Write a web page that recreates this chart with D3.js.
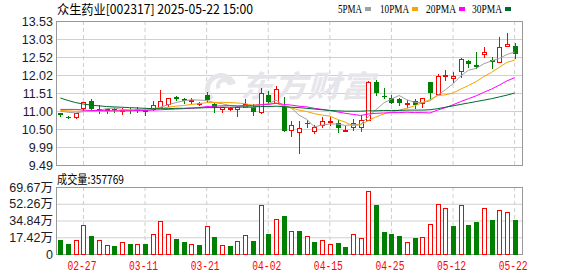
<!DOCTYPE html>
<html>
<head>
<meta charset="utf-8">
<script src="https://cdn.jsdelivr.net/npm/d3@7"></script>
<style>
  body { margin: 0; background: #fff; }
  svg { display: block; }
</style>
</head>
<body>
<div id="chart"></div>
<script>
var dates = ["02-24","02-25","02-26","02-27","02-28","03-03","03-04","03-05","03-06","03-07",
  "03-10","03-11","03-12","03-13","03-14","03-17","03-18","03-19","03-20","03-21",
  "03-24","03-25","03-26","03-27","03-28","03-31","04-01","04-02","04-03","04-07",
  "04-08","04-09","04-10","04-11","04-14","04-15","04-16","04-17","04-18","04-21",
  "04-22","04-23","04-24","04-25","04-28","04-29","04-30","05-06","05-07","05-08",
  "05-09","05-12","05-13","05-14","05-15","05-16","05-19","05-20","05-21","05-22"];

var open = [10.94,10.84,10.83,11.08,11.29,11.02,11.04,11.06,11.01,11.04,
  11.03,11.00,11.05,11.13,11.20,11.39,11.35,11.28,11.21,11.45,
  11.19,11.07,11.07,11.05,11.12,11.11,10.97,11.45,11.22,11.15,
  10.47,10.41,10.67,10.45,10.61,10.71,10.66,10.44,10.55,10.56,
  10.75,11.82,11.42,11.36,11.33,11.21,11.29,11.22,11.81,11.47,
  11.98,11.92,12.13,12.41,12.30,12.60,12.44,12.37,12.84,12.84];
var high = [10.95,10.87,10.96,11.27,11.33,11.16,11.10,11.08,11.08,11.08,
  11.11,11.06,11.28,11.59,11.38,11.43,11.36,11.36,11.27,11.55,
  11.24,11.13,11.13,11.15,11.34,11.19,11.64,11.57,11.71,11.39,
  10.72,10.73,10.75,10.61,10.83,10.84,10.75,10.58,10.77,10.89,
  11.85,11.88,11.64,11.45,11.38,11.31,11.34,11.38,11.83,12.03,
  12.16,12.11,12.48,12.44,12.67,12.81,12.53,13.09,13.19,12.90];
var low = [10.87,10.80,10.82,11.03,11.03,10.94,10.95,10.99,10.93,10.95,
  10.98,10.88,11.03,11.12,11.15,11.31,11.22,11.24,11.17,11.27,
  10.99,10.97,11.03,10.87,11.11,10.89,10.96,11.22,11.22,10.45,
  10.31,9.84,10.56,10.40,10.56,10.61,10.42,10.43,10.47,10.45,
  10.74,11.45,11.38,11.22,11.17,11.13,11.10,11.13,11.38,11.47,
  11.88,11.83,11.97,12.25,12.22,12.53,12.22,12.37,12.83,12.48];
var close = [10.89,10.82,10.95,11.25,11.05,11.06,11.07,11.02,11.04,11.02,
  11.06,11.03,11.16,11.29,11.36,11.35,11.29,11.31,11.23,11.31,
  11.08,11.11,11.09,11.12,11.19,10.97,11.50,11.27,11.61,10.45,
  10.61,10.52,10.65,10.56,10.72,10.73,10.54,10.46,10.66,10.75,
  11.83,11.50,11.40,11.24,11.22,11.23,11.16,11.36,11.50,12.00,
  12.01,11.99,12.46,12.32,12.24,12.65,12.37,12.81,12.88,12.60];

// volume in 万
var volume = [14.9,10.7,14.6,30.2,19.1,14.6,9.4,8.7,12.5,10.7,
  10.7,10.7,20.8,34.4,20.8,16.0,12.8,10.4,9.7,29.2,
  18.0,9.4,8.7,13.6,19.8,13.9,51.1,21.2,36.5,39.9,
  24.0,24.3,18.8,12.8,14.6,10.7,11.8,7.6,21.2,16.7,
  65.7,51.4,23.3,21.2,19.1,12.5,17.0,17.7,31.6,52.1,
  48.0,29.5,51.1,30.6,33.7,48.0,35.8,45.9,43.8,35.78];

var ma5 = [11.00,10.97,10.95,10.99,10.99,11.02,11.07,11.09,11.05,11.04,
  11.04,11.03,11.06,11.11,11.18,11.24,11.29,11.32,11.31,11.30,
  11.24,11.21,11.16,11.14,11.12,11.10,11.17,11.21,11.31,11.16,
  11.09,10.89,10.77,10.56,10.61,10.64,10.64,10.60,10.62,10.63,
  10.85,11.04,11.23,11.34,11.44,11.32,11.25,11.24,11.29,11.45,
  11.60,11.77,11.99,12.15,12.20,12.33,12.41,12.48,12.59,12.66];
var ma10 = [11.02,11.01,11.00,11.00,11.00,11.00,11.00,11.01,11.01,11.02,
  11.03,11.05,11.08,11.08,11.11,11.14,11.16,11.19,11.21,11.24,
  11.24,11.25,11.24,11.23,11.21,11.17,11.19,11.19,11.23,11.14,
  11.09,11.03,10.99,10.93,10.89,10.86,10.77,10.69,10.59,10.62,
  10.74,10.84,10.92,10.98,11.03,11.08,11.15,11.24,11.32,11.44,
  11.46,11.51,11.62,11.72,11.83,11.97,12.09,12.23,12.37,12.43];
var ma20 = [11.05,11.05,11.05,11.03,11.02,11.02,11.01,11.01,11.01,11.01,
  11.02,11.02,11.03,11.04,11.05,11.06,11.07,11.08,11.10,11.13,
  11.14,11.15,11.16,11.15,11.16,11.16,11.18,11.19,11.22,11.19,
  11.17,11.14,11.12,11.08,11.05,11.02,10.98,10.94,10.91,10.88,
  10.92,10.94,10.95,10.96,10.96,10.97,10.96,10.96,10.95,11.03,
  11.10,11.18,11.27,11.35,11.43,11.53,11.62,11.73,11.85,11.94];
var ma30 = [11.37,11.30,11.24,11.20,11.17,11.15,11.13,11.12,11.11,11.10,
  11.09,11.08,11.07,11.07,11.07,11.08,11.08,11.09,11.09,11.10,
  11.10,11.11,11.11,11.11,11.12,11.12,11.13,11.13,11.14,11.13,
  11.11,11.10,11.08,11.06,11.04,11.02,11.01,11.00,11.00,11.00,
  11.01,11.01,11.02,11.02,11.02,11.03,11.03,11.03,11.04,11.07,
  11.11,11.15,11.19,11.23,11.27,11.31,11.35,11.40,11.45,11.51];

var priceTicks = ["9.49","9.99","10.50","11.00","11.51","12.02","12.52","13.03","13.53"];
var volTicks = ["0","17.42万","34.84万","52.26万","69.67万"];
var volMax = 69.67;
var dateTicks = ["02-27","03-11","03-21","04-02","04-15","04-25","05-12","05-22"];
var maNames = ["5PMA","10PMA","20PMA","30PMA"];
var maColors = ["#a0a0a0","#f5a400","#ff00ff","#006a30"];
var maSeries = [ma5, ma10, ma20, ma30];

var titleText = "众生药业[002317] 2025-05-22 15:00";
var volLabel = "成交量:357769";

var width = 578, height = 276;
var left = 56, right = 522;
var priceTop = 21, priceBottom = 165;
var volTop = 187, volBottom = 254;
var RED = "#ff0000", GREEN = "#008000";
var n = dates.length;

function crisp(v) { return Math.round(v) + 0.5; }

var svg = d3.select("#chart").append("svg")
  .attr("width", width)
  .attr("height", height);

var x = d3.scaleBand().domain(d3.range(n)).range([56.5, 518.5]);
function cx(i) { return x(i) + x.bandwidth() / 2; }

var pMin = +priceTicks[0], pMax = +priceTicks[priceTicks.length - 1];
var y = d3.scaleLinear().domain([pMin, pMax]).range([priceBottom, priceTop]);
var yv = d3.scaleLinear().domain([0, volMax]).range([volBottom, volTop]);

var priceVals = priceTicks.map(function(t, i) { return pMin + i * (pMax - pMin) / (priceTicks.length - 1); });
var volVals = volTicks.map(function(t, i) { return i * volMax / (volTicks.length - 1); });
var dateIdx = dateTicks.map(function(d) { return dates.indexOf(d); });

// horizontal grid
svg.append("g")
  .attr("class", "grid")
  .attr("transform", "translate(" + left + ",0)")
  .call(d3.axisLeft(y).tickValues(priceVals).tickSize(-(right - left)).tickFormat(""));
svg.append("g")
  .attr("class", "grid")
  .attr("transform", "translate(" + left + ",0)")
  .call(d3.axisLeft(yv).tickValues(volVals).tickSize(-(right - left)).tickFormat(""));

// vertical dashed grid
svg.append("g")
  .attr("class", "vgrid")
  .attr("transform", "translate(0," + priceBottom + ")")
  .call(d3.axisBottom(x).tickValues(dateIdx).tickSize(-(priceBottom - priceTop)).tickFormat(""));
svg.append("g")
  .attr("class", "vgrid")
  .attr("transform", "translate(0," + volBottom + ")")
  .call(d3.axisBottom(x).tickValues(dateIdx).tickSize(-(volBottom - volTop)).tickFormat(""));

svg.selectAll(".grid .domain, .vgrid .domain").remove();
svg.selectAll(".grid line").attr("stroke", "#d0d0d0");
svg.selectAll(".vgrid line").attr("stroke", "#cfcfcf").attr("stroke-dasharray", "4,3");

// watermark
svg.append("path")
  .attr("d", d3.arc()({innerRadius: 11, outerRadius: 16, startAngle: -2.4, endAngle: 1.2}))
  .attr("transform", "translate(221,89)")
  .attr("fill", "#e5e5ea");
svg.append("path")
  .attr("d", d3.arc()({innerRadius: 4, outerRadius: 8, startAngle: -2.0, endAngle: 1.4}))
  .attr("transform", "translate(224,86)")
  .attr("fill", "#e5e5ea");
svg.append("text")
  .attr("x", 240).attr("y", 97)
  .attr("fill", "#e5e5ea")
  .attr("font-family", "'Noto Sans CJK SC', sans-serif")
  .attr("font-size", 30)
  .attr("font-weight", "bold")
  .attr("font-style", "italic")
  .attr("textLength", 134)
  .attr("lengthAdjust", "spacingAndGlyphs")
  .text("东方财富");

// borders
svg.append("rect")
  .attr("x", left + 0.5).attr("y", priceTop + 0.5)
  .attr("width", right - left).attr("height", priceBottom - priceTop)
  .attr("fill", "none").attr("stroke", "#999");
svg.append("rect")
  .attr("x", left + 0.5).attr("y", volTop + 0.5)
  .attr("width", right - left).attr("height", volBottom - volTop)
  .attr("fill", "none").attr("stroke", "#999");

// candles
var candles = svg.append("g").selectAll("g")
  .data(d3.range(n))
  .enter().append("g");

candles.append("line")
  .attr("x1", function(i) { return crisp(cx(i)); })
  .attr("x2", function(i) { return crisp(cx(i)); })
  .attr("y1", function(i) { return Math.round(y(high[i])); })
  .attr("y2", function(i) { return Math.round(y(low[i])) + 1; })
  .attr("stroke", function(i) { return close[i] >= open[i] ? RED : GREEN; });

candles.append("rect")
  .attr("x", function(i) {
    return close[i] >= open[i] ? Math.round(cx(i) - 2) + 0.5 : Math.round(cx(i) - 2);
  })
  .attr("y", function(i) {
    var top = Math.round(y(Math.max(open[i], close[i])));
    return close[i] >= open[i] ? top + 0.5 : top;
  })
  .attr("width", function(i) { return close[i] >= open[i] ? 4 : 5; })
  .attr("height", function(i) {
    var h = Math.round(y(Math.min(open[i], close[i]))) - Math.round(y(Math.max(open[i], close[i])));
    return close[i] >= open[i] ? Math.max(h, 0) : Math.max(h, 1);
  })
  .attr("fill", function(i) { return close[i] >= open[i] ? "#fff" : GREEN; })
  .attr("stroke", function(i) { return close[i] >= open[i] ? RED : "none"; });

// moving averages
var line = d3.line()
  .x(function(d, i) { return cx(i); })
  .y(function(d) { return y(d); });

svg.append("g").selectAll("path")
  .data(maSeries)
  .enter().append("path")
  .attr("d", line)
  .attr("fill", "none")
  .attr("stroke", function(d, k) { return maColors[k]; })
  .attr("stroke-width", 1);

// volume bars
function volUp(i) { return i === 0 ? close[i] >= open[i] : close[i] >= close[i - 1]; }

svg.append("g").selectAll("rect")
  .data(d3.range(n))
  .enter().append("rect")
  .attr("x", function(i) { return volUp(i) ? Math.round(cx(i) - 2) + 0.5 : Math.round(cx(i) - 2); })
  .attr("y", function(i) { return volUp(i) ? Math.round(yv(volume[i])) + 0.5 : Math.round(yv(volume[i])); })
  .attr("width", function(i) { return volUp(i) ? 4 : 5; })
  .attr("height", function(i) {
    var h = volBottom - Math.round(yv(volume[i]));
    return volUp(i) ? h : h + 1;
  })
  .attr("fill", function(i) { return volUp(i) ? "#fff" : GREEN; })
  .attr("stroke", function(i) { return volUp(i) ? RED : "none"; });

// axis labels
var labelFont = "'Liberation Sans', Arial, sans-serif";

var yAxis = svg.append("g")
  .attr("transform", "translate(" + left + ",0)")
  .call(d3.axisLeft(y).tickValues(priceVals)
    .tickFormat(function(d, i) { return priceTicks[i]; })
    .tickSize(0).tickPadding(3));
var vAxis = svg.append("g")
  .attr("transform", "translate(" + left + ",0)")
  .call(d3.axisLeft(yv).tickValues(volVals)
    .tickFormat(function(d, i) { return volTicks[i]; })
    .tickSize(0).tickPadding(3));
[yAxis, vAxis].forEach(function(g) {
  g.select(".domain").remove();
  g.selectAll("text")
    .attr("font-family", labelFont + ", 'Noto Sans CJK SC'")
    .attr("font-size", 12.5)
    .attr("fill", "#1a1a2a");
});

var xAxis = svg.append("g")
  .attr("transform", "translate(0," + volBottom + ")")
  .call(d3.axisBottom(x).tickValues(dateIdx)
    .tickFormat(function(i) { return dates[i]; })
    .tickSize(0).tickPadding(7));
xAxis.select(".domain").remove();
xAxis.selectAll("text")
  .attr("dx", -1.5)
  .attr("font-family", "'Liberation Mono', monospace")
  .attr("font-size", 12)
  .attr("textLength", 29)
  .attr("lengthAdjust", "spacingAndGlyphs")
  .attr("fill", RED);

// title
svg.append("text")
  .attr("x", 57).attr("y", 14)
  .attr("font-family", "'Noto Sans CJK SC', sans-serif")
  .attr("font-size", 13)
  .attr("textLength", 196)
  .attr("lengthAdjust", "spacingAndGlyphs")
  .attr("fill", "#000")
  .text(titleText);

// legend
var legendX = [338, 380, 426, 472];
var legendW = [24, 29, 30, 30];
var legend = svg.append("g").selectAll("g")
  .data(maNames)
  .enter().append("g");
legend.append("text")
  .attr("x", function(d, k) { return legendX[k]; })
  .attr("y", 13)
  .attr("font-family", "'Liberation Serif', serif")
  .attr("font-size", 12.5)
  .attr("textLength", function(d, k) { return legendW[k]; })
  .attr("lengthAdjust", "spacingAndGlyphs")
  .attr("fill", "#000")
  .text(function(d) { return d; });
legend.append("rect")
  .attr("x", function(d, k) { return legendX[k] + legendW[k] + 3; })
  .attr("y", 7)
  .attr("width", 6).attr("height", 4)
  .attr("fill", function(d, k) { return maColors[k]; });

// volume label
svg.append("text")
  .attr("x", 57).attr("y", 184)
  .attr("font-family", "'Noto Sans CJK SC', sans-serif")
  .attr("font-size", 12)
  .attr("textLength", 67)
  .attr("lengthAdjust", "spacingAndGlyphs")
  .attr("fill", "#000")
  .text(volLabel);
</script>
</body>
</html>
